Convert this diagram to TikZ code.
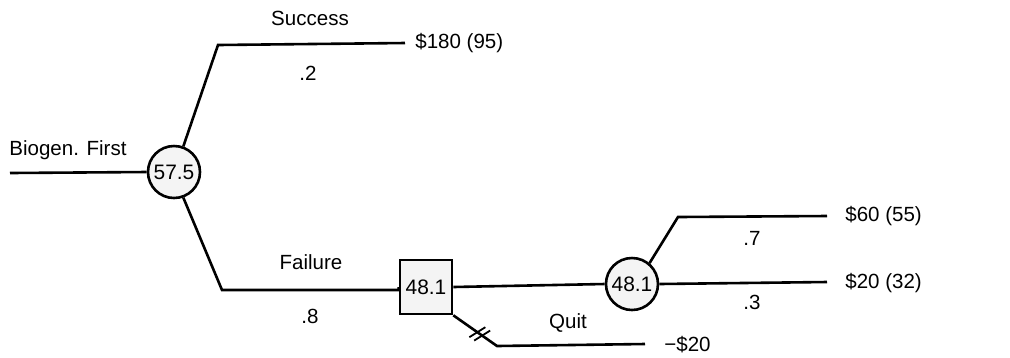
\documentclass[tikz,border=0pt]{standalone}
\usepackage{fontspec}
\setmainfont{Liberation Sans}
\usepackage{tikz}
\usetikzlibrary{positioning,calc}
\definecolor{nodefill}{RGB}{244,244,244}
\tikzset{
  branch/.style={line width=1.3bp},
  chance/.style={circle,draw,line width=1.3bp,fill=nodefill,minimum size=26bp,inner sep=0pt,font=\fontsize{10.5}{12}\selectfont},
  decision/.style={rectangle,draw,line width=1.3bp,fill=nodefill,minimum width=26bp,minimum height=27bp,inner sep=0pt,font=\fontsize{10.5}{12}\selectfont},
  lbl/.style={font=\fontsize{10.3}{12}\selectfont,inner sep=1pt}
}

\begin{document}
\begin{tikzpicture}[x=0.5bp,y=-0.5bp]
\useasboundingbox (0,0) rectangle (1010,357);
% points of the tree
\coordinate (start) at (10,173);
\coordinate (sbend) at (218,45);
\coordinate (send) at (405,43);
\coordinate (fbend) at (222,290);
\coordinate (upbend) at (678,217);
\coordinate (upend) at (827,216);
\coordinate (midend) at (827,282);
\coordinate (qbend) at (497,346);
\coordinate (qend) at (645,344);
% nodes
\node[chance] (first) at (174,172) {57.5};
\node[decision] (choose) at (426,287) {48.1};
\node[chance] (second) at (632,284) {48.1};
% branches
\draw[branch] (start) -- (first.west);
\draw[branch] (first.70) -- (sbend) -- (send);
\draw[branch] (first.-70) -- (fbend) -- (choose.west |- fbend) -- (choose.west);
\draw[branch] (choose.east) -- (second.west);
\draw[branch] (second.50) -- (upbend) -- (upend);
\draw[branch] (second.east) -- (midend);
\draw[branch] (choose.south east) -- (qbend) -- (qend);
% blocked branch
\foreach \t in {0.55,0.66}{
  \draw[line width=0.9bp] ($(choose.south east)!\t!(qbend)$) ++(-8,5) -- ++(16,-10);
}
% labels
\node[lbl] (lsucc) at (310,18) {Success};
\node[lbl] (lfail) at (311,262) {Failure};
\node[lbl] (lquit) at (568,323) {Quit};
\node[lbl,anchor=west] (lbio) at (7,150) {Biogen. First};
\node[lbl,anchor=west] (vsucc) at (413,43) {\$180 (95)};
\node[lbl,anchor=west] (vup) at (843,216) {\$60 (55)};
\node[lbl,anchor=west] (vmid) at (843,283) {\$20 (32)};
\node[lbl,anchor=west] (vquit) at (662,345) {−\$20};
\foreach \p/\x/\y/\n in {.2/308/73/ps, .8/310/316/pf, .7/752/238/pu, .3/752/302/pm}{
  \node[lbl] (\n) at (\x,\y) {\p};
}
\end{tikzpicture}
\end{document}
